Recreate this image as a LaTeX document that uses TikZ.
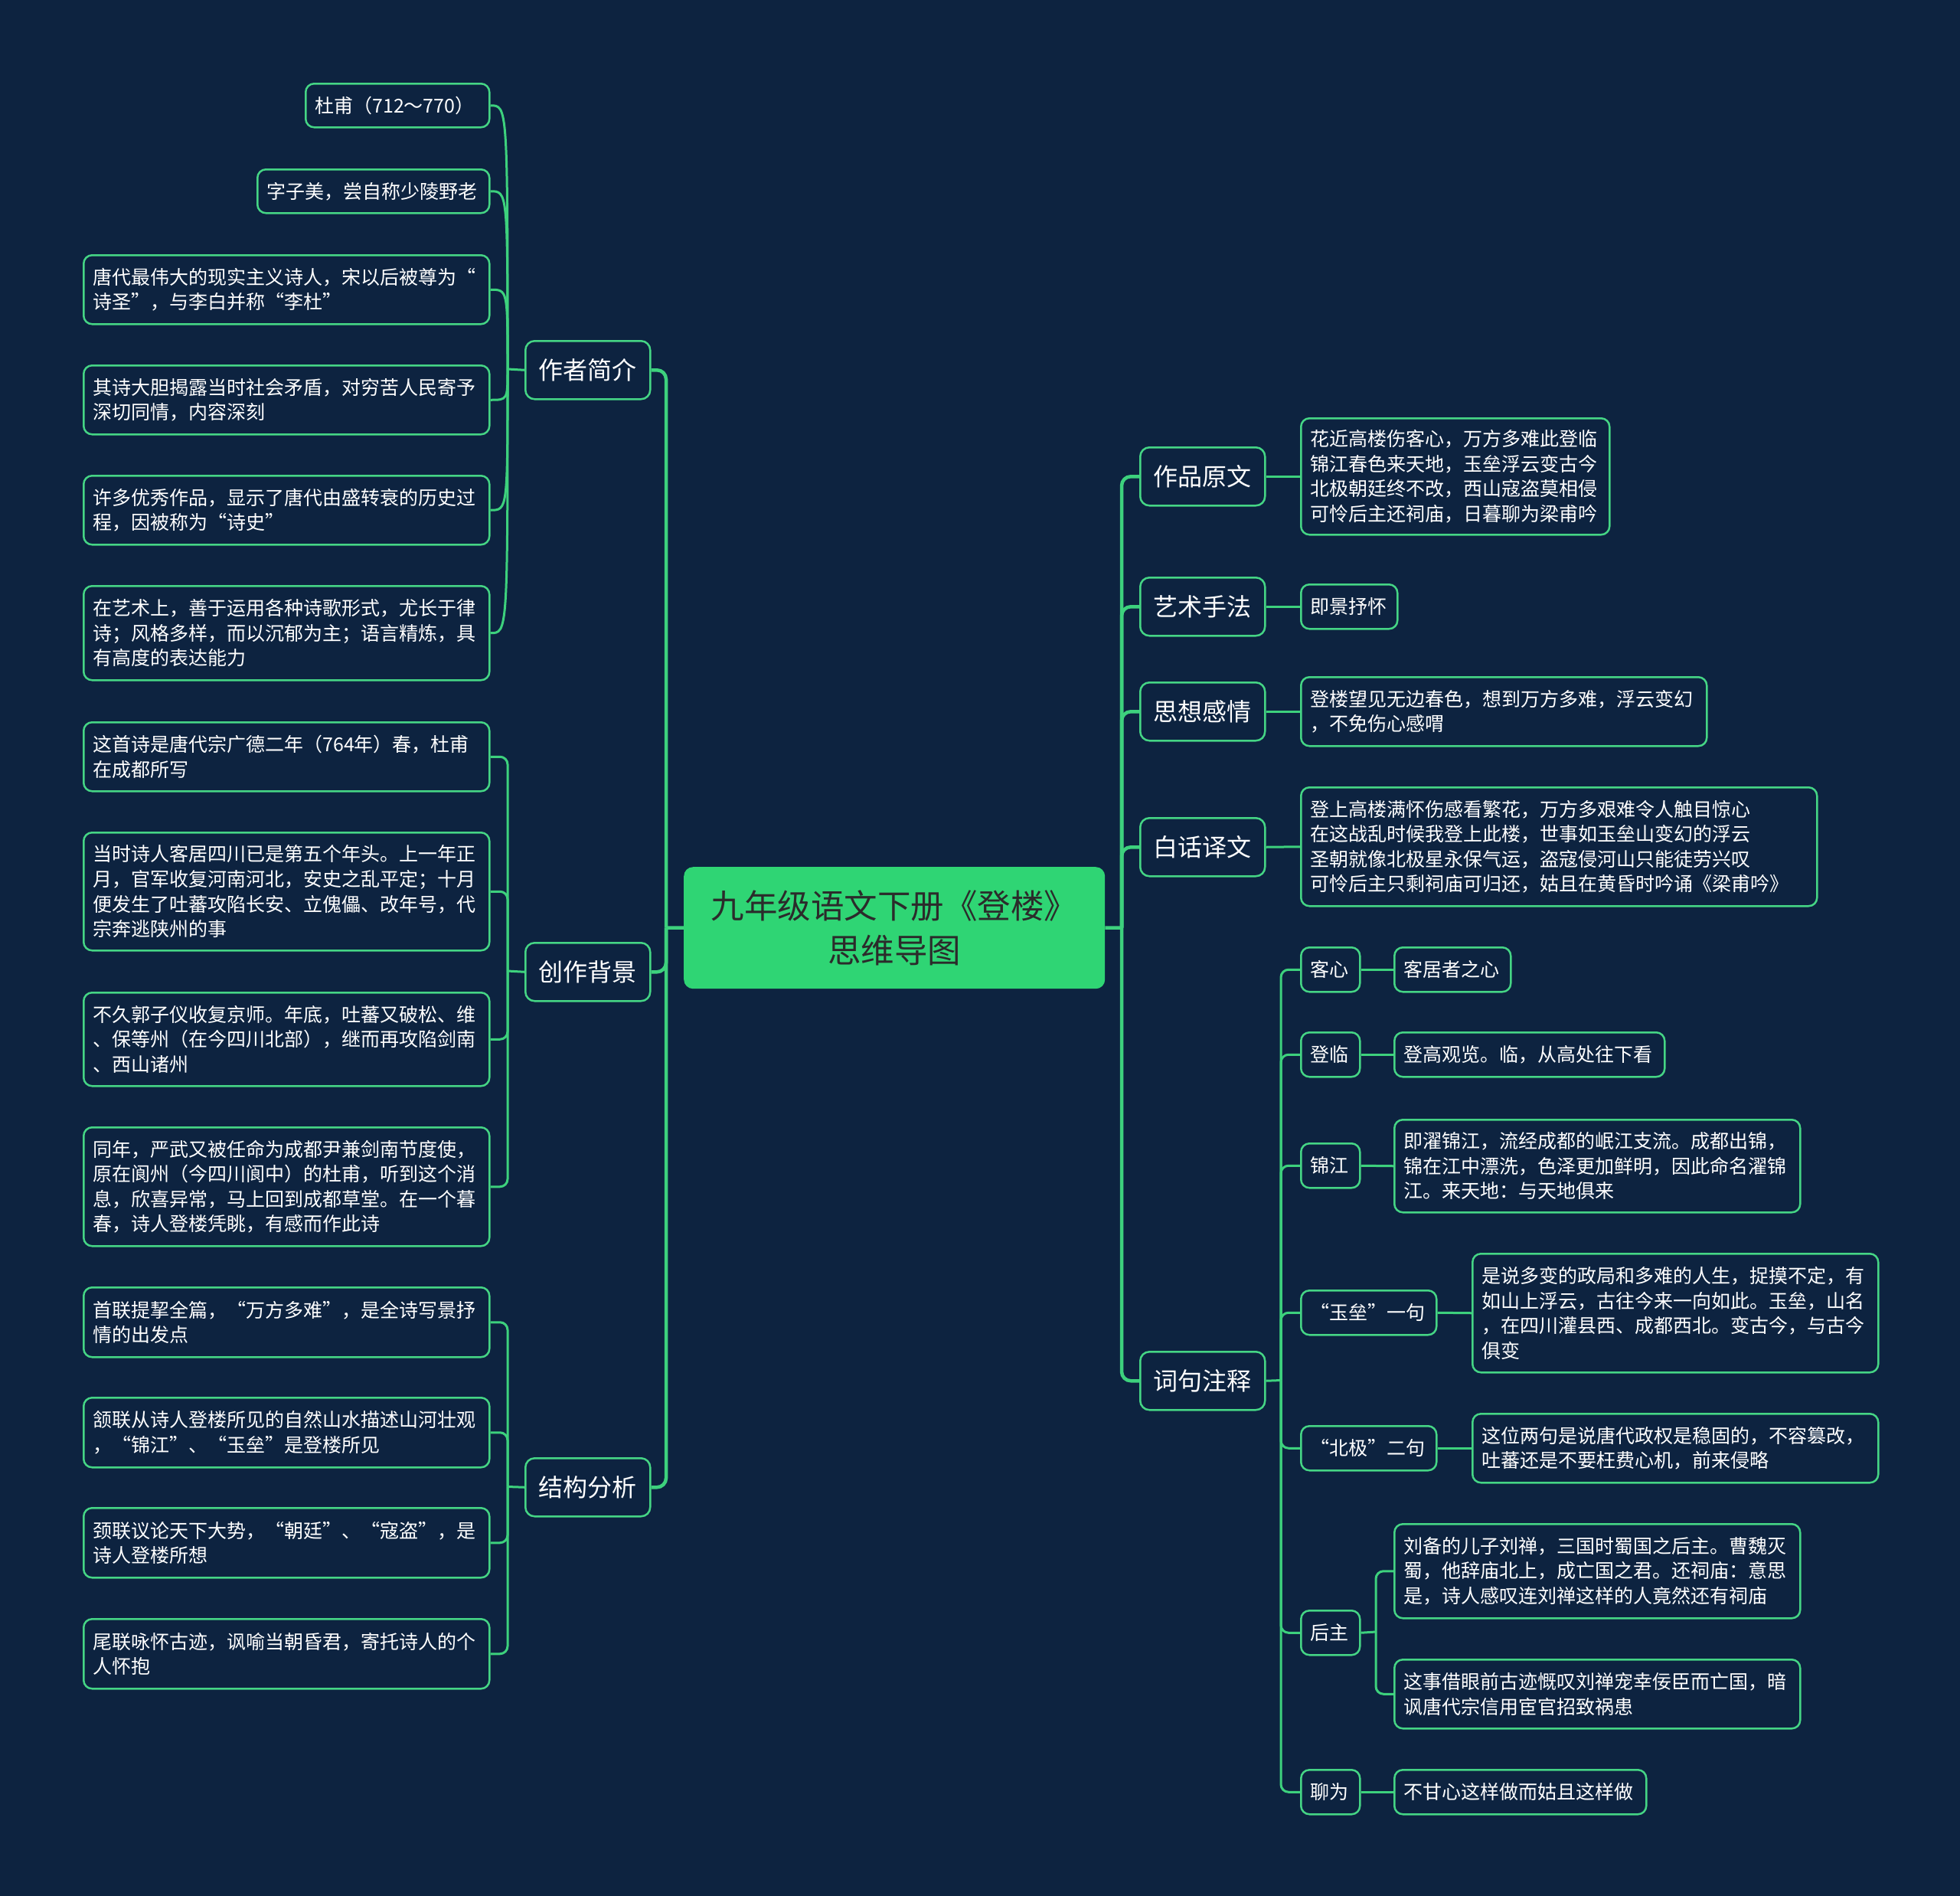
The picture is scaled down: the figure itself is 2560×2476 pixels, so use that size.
\documentclass[tikz,border=0pt]{standalone}
\usepackage{fontspec}
\setmainfont{Noto Sans CJK SC}
\definecolor{bgc}{HTML}{0D2340}
\definecolor{linec}{HTML}{3DD17D}
\definecolor{boxc}{HTML}{45D585}
\definecolor{centc}{HTML}{2FD574}
\definecolor{darkt}{HTML}{2B2B2B}
\begin{document}
\begin{tikzpicture}[x=1pt,y=-1pt,
  leaf/.style={draw=boxc, line width=2.5pt, rounded corners=11pt, fill=bgc, text=white,
    font=\fontsize{25}{32.6}\selectfont, align=left, anchor=north west, inner xsep=12pt, inner ysep=0pt},
  topic/.style={draw=boxc, line width=2.5pt, rounded corners=12pt, fill=bgc, text=white,
    font=\fontsize{32}{38}\selectfont, anchor=north west, inner sep=0pt, minimum width=163pt, minimum height=76pt},
  centre/.style={fill=centc, rounded corners=12pt, text=darkt, font=\fontsize{43.5}{58}\selectfont,
    align=center, anchor=north west, inner sep=0pt, minimum width=550pt, minimum height=159pt},
  main/.style={draw=linec, line width=4.5pt, rounded corners=12pt},
  sub/.style={draw=linec, line width=3pt, rounded corners=10pt},
]
\fill[bgc] (0,0) rectangle (2560,2476);
\useasboundingbox (0,0) rectangle (2560,2476);

% centre
\node[centre] (C) at (893,1132) {九年级语文下册《登楼》\\思维导图};

% left topics
\node[topic] (t1) at (685,444) {作者简介};
\node[topic] (t2) at (685,1230) {创作背景};
\node[topic] (t3) at (685,1903) {结构分析};

% right topics
\node[topic] (t4) at (1488,583) {作品原文};
\node[topic] (t5) at (1488,753) {艺术手法};
\node[topic] (t6) at (1488,890) {思想感情};
\node[topic] (t7) at (1488,1067) {白话译文};
\node[topic] (t8) at (1488,1764) {词句注释};

% author leaves
\node[leaf, minimum width=240pt, minimum height=57pt, text width=216pt] (a1) at (398,108) {杜甫（712～770）};
\node[leaf, minimum width=303pt, minimum height=57pt, text width=279pt] (a2) at (335,220) {字子美，尝自称少陵野老};
\node[leaf, minimum width=530pt, minimum height=90pt, text width=506pt] (a3) at (108,332) {唐代最伟大的现实主义诗人，宋以后被尊为“\\诗圣”，与李白并称“李杜”};
\node[leaf, minimum width=530pt, minimum height=90pt, text width=506pt] (a4) at (108,476) {其诗大胆揭露当时社会矛盾，对穷苦人民寄予\\深切同情，内容深刻};
\node[leaf, minimum width=530pt, minimum height=90pt, text width=506pt] (a5) at (108,620) {许多优秀作品，显示了唐代由盛转衰的历史过\\程，因被称为“诗史”};
\node[leaf, minimum width=530pt, minimum height=123pt, text width=506pt] (a6) at (108,764) {在艺术上，善于运用各种诗歌形式，尤长于律\\诗；风格多样，而以沉郁为主；语言精炼，具\\有高度的表达能力};

% background leaves
\node[leaf, minimum width=530pt, minimum height=90pt, text width=506pt] (b1) at (108,942) {这首诗是唐代宗广德二年（764年）春，杜甫\\在成都所写};
\node[leaf, minimum width=530pt, minimum height=154pt, text width=506pt] (b2) at (108,1086) {当时诗人客居四川已是第五个年头。上一年正\\月，官军收复河南河北，安史之乱平定；十月\\便发生了吐蕃攻陷长安、立傀儡、改年号，代\\宗奔逃陕州的事};
\node[leaf, minimum width=530pt, minimum height=122pt, text width=506pt] (b3) at (108,1295) {不久郭子仪收复京师。年底，吐蕃又破松、维\\、保等州（在今四川北部），继而再攻陷剑南\\、西山诸州};
\node[leaf, minimum width=530pt, minimum height=155pt, text width=506pt] (b4) at (108,1471) {同年，严武又被任命为成都尹兼剑南节度使，\\原在阆州（今四川阆中）的杜甫，听到这个消\\息，欣喜异常，马上回到成都草堂。在一个暮\\春，诗人登楼凭眺，有感而作此诗};

% structure leaves
\node[leaf, minimum width=530pt, minimum height=91pt, text width=506pt] (c1) at (108,1680) {首联提挈全篇，“万方多难”，是全诗写景抒\\情的出发点};
\node[leaf, minimum width=530pt, minimum height=91pt, text width=506pt] (c2) at (108,1824) {颔联从诗人登楼所见的自然山水描述山河壮观\\，“锦江”、“玉垒”是登楼所见};
\node[leaf, minimum width=530pt, minimum height=91pt, text width=506pt] (c3) at (108,1968) {颈联议论天下大势，“朝廷”、“寇盗”，是\\诗人登楼所想};
\node[leaf, minimum width=530pt, minimum height=91pt, text width=506pt] (c4) at (108,2113) {尾联咏怀古迹，讽喻当朝昏君，寄托诗人的个\\人怀抱};

% right leaves
\node[leaf, minimum width=403pt, minimum height=152pt, text width=379pt] (r1) at (1698,545) {花近高楼伤客心，万方多难此登临\\锦江春色来天地，玉垒浮云变古今\\北极朝廷终不改，西山寇盗莫相侵\\可怜后主还祠庙，日暮聊为梁甫吟};
\node[leaf, minimum width=126pt, minimum height=58pt, text width=102pt] (r2) at (1698,762) {即景抒怀};
\node[leaf, minimum width=530pt, minimum height=90pt, text width=506pt] (r3) at (1698,883) {登楼望见无边春色，想到万方多难，浮云变幻\\，不免伤心感喟};
\node[leaf, minimum width=674pt, minimum height=155pt, text width=650pt] (r4) at (1698,1027) {登上高楼满怀伤感看繁花，万方多艰难令人触目惊心\\在这战乱时候我登上此楼，世事如玉垒山变幻的浮云\\圣朝就像北极星永保气运，盗寇侵河山只能徒劳兴叹\\可怜后主只剩祠庙可归还，姑且在黄昏时吟诵《梁甫吟》};

% annotation keys
\node[leaf, minimum width=77pt, minimum height=58pt, text width=53pt] (k1) at (1698,1236) {客心};
\node[leaf, minimum width=77pt, minimum height=58pt, text width=53pt] (k2) at (1698,1347) {登临};
\node[leaf, minimum width=77pt, minimum height=58pt, text width=53pt] (k3) at (1698,1492) {锦江};
\node[leaf, minimum width=177pt, minimum height=58pt, text width=153pt] (k4) at (1698,1684) {“玉垒”一句};
\node[leaf, minimum width=177pt, minimum height=58pt, text width=153pt] (k5) at (1698,1861) {“北极”二句};
\node[leaf, minimum width=77pt, minimum height=58pt, text width=53pt] (k6) at (1698,2102) {后主};
\node[leaf, minimum width=77pt, minimum height=58pt, text width=53pt] (k7) at (1698,2310) {聊为};

% annotation texts
\node[leaf, minimum width=152pt, minimum height=58pt, text width=128pt] (l1) at (1820,1236) {客居者之心};
\node[leaf, minimum width=353pt, minimum height=58pt, text width=329pt] (l2) at (1820,1347) {登高观览。临，从高处往下看};
\node[leaf, minimum width=530pt, minimum height=121pt, text width=506pt] (l3) at (1820,1461) {即濯锦江，流经成都的岷江支流。成都出锦，\\锦在江中漂洗，色泽更加鲜明，因此命名濯锦\\江。来天地：与天地俱来};
\node[leaf, minimum width=530pt, minimum height=155pt, text width=506pt] (l4) at (1922,1636) {是说多变的政局和多难的人生，捉摸不定，有\\如山上浮云，古往今来一向如此。玉垒，山名\\，在四川灌县西、成都西北。变古今，与古今\\俱变};
\node[leaf, minimum width=530pt, minimum height=90pt, text width=506pt] (l5) at (1922,1845) {这位两句是说唐代政权是稳固的，不容篡改，\\吐蕃还是不要枉费心机，前来侵略};
\node[leaf, minimum width=530pt, minimum height=123pt, text width=506pt] (l6) at (1820,1989) {刘备的儿子刘禅，三国时蜀国之后主。曹魏灭\\蜀，他辞庙北上，成亡国之君。还祠庙：意思\\是，诗人感叹连刘禅这样的人竟然还有祠庙};
\node[leaf, minimum width=530pt, minimum height=90pt, text width=506pt] (l7) at (1820,2166) {这事借眼前古迹慨叹刘禅宠幸佞臣而亡国，暗\\讽唐代宗信用宦官招致祸患};
\node[leaf, minimum width=329pt, minimum height=58pt, text width=305pt] (l8) at (1820,2310) {不甘心这样做而姑且这样做};

% junctions
\coordinate (LJ) at (870,1211.5);
\coordinate (RJ) at (1465,1211.5);
\coordinate (PJ1) at (663,482);
\coordinate (PJ2) at (663,1268);
\coordinate (PJ3) at (663,1941.5);
\coordinate (QJ) at (1673,1802.5);
\coordinate (HJ) at (1797,2131);

% centre to topics
\draw[main] (C.west) -- (LJ);
\draw[main] (C.east) -- (RJ);
\foreach \t in {t1,t2,t3} \draw[main] (LJ) |- (\t.east);
\foreach \t in {t4,t5,t6,t7,t8} \draw[main] (RJ) |- (\t.west);

% author curves
\draw[sub] (t1.west) -- (PJ1);
\foreach \a in {a1,a2,a3,a4,a5,a6} \draw[sub] (\a.east) .. controls (PJ1 |- \a.east) .. (PJ1);

% background and structure
\draw[sub] (t2.west) -- (PJ2);
\foreach \b in {b1,b2,b3,b4} \draw[sub] (PJ2) |- (\b.east);
\draw[sub] (t3.west) -- (PJ3);
\foreach \c in {c1,c2,c3,c4} \draw[sub] (PJ3) |- (\c.east);

% right simple
\draw[sub] (t4.east) -- (r1.west);
\draw[sub] (t5.east) -- (r2.west);
\draw[sub] (t6.east) -- (r3.west);
\draw[sub] (t7.east) -- (r4.west);

% annotations
\draw[sub] (t8.east) -- (QJ);
\foreach \k in {k1,k2,k3,k4,k5,k6,k7} \draw[sub] (QJ) |- (\k.west);
\draw[sub] (k1.east) -- (l1.west);
\draw[sub] (k2.east) -- (l2.west);
\draw[sub] (k3.east) -- (l3.west);
\draw[sub] (k4.east) -- (l4.west);
\draw[sub] (k5.east) -- (l5.west);
\draw[sub] (k7.east) -- (l8.west);
\draw[sub] (k6.east) -- (HJ);
\draw[sub] (HJ) |- (l6.west);
\draw[sub] (HJ) |- (l7.west);
\end{tikzpicture}
\end{document}
